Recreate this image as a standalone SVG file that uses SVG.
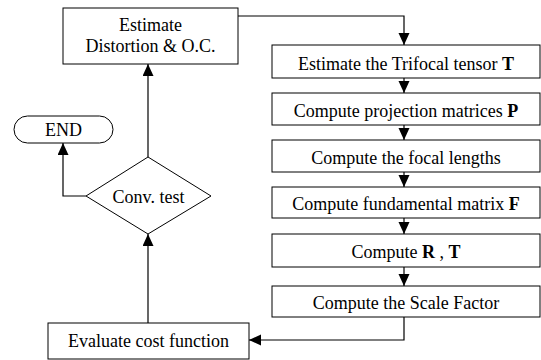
<svg xmlns="http://www.w3.org/2000/svg" width="541" height="360" viewBox="0 0 541 360">
<style>
.box{fill:#fff;stroke:#000;stroke-width:1}
.t{font-family:"Liberation Serif","Times New Roman",serif;font-size:18px;fill:#000;text-anchor:middle}
.b{font-weight:bold}
.c{fill:none;stroke:#000;stroke-width:1.2}
</style>
<defs>
<marker id="ah" markerUnits="userSpaceOnUse" markerWidth="12" markerHeight="12" refX="12" refY="5.5" orient="auto">
<path d="M0,0 L12,5.5 L0,11 z" fill="#000"/>
</marker>
</defs>
<rect width="541" height="360" fill="#fff"/>
<g id="connectors">
<path class="c" d="M238,16 H404 V45" marker-end="url(#ah)"/>
<path class="c" d="M404,78 V93" marker-end="url(#ah)"/>
<path class="c" d="M404,125 V140" marker-end="url(#ah)"/>
<path class="c" d="M404,172 V187" marker-end="url(#ah)"/>
<path class="c" d="M404,218 V234" marker-end="url(#ah)"/>
<path class="c" d="M404,267 V286" marker-end="url(#ah)"/>
<path class="c" d="M404,317 V340 H249" marker-end="url(#ah)"/>
<path class="c" d="M148,323 V234" marker-end="url(#ah)"/>
<path class="c" d="M148,157 V64" marker-end="url(#ah)"/>
<path class="c" d="M86,196 H63 V143" marker-end="url(#ah)"/>
</g>
<g id="estimate-distortion">
<rect class="box" x="63" y="8" width="175" height="56"/>
<text class="t" x="150.5" y="31">Estimate</text>
<text class="t" x="150.5" y="52">Distortion &amp; O.C.</text>
</g>
<g id="end">
<rect class="box" x="14" y="116" width="99" height="27" rx="13.5"/>
<text class="t" x="63.5" y="136">END</text>
</g>
<g id="conv-test">
<polygon class="box" points="148,157 211,196 148,234 86,196"/>
<text class="t" x="148.5" y="203">Conv. test</text>
</g>
<g id="evaluate-cost">
<rect class="box" x="48" y="323" width="201" height="36"/>
<text class="t" x="148.5" y="347">Evaluate cost function</text>
</g>
<g id="trifocal">
<rect class="box" x="272" y="45" width="268" height="33"/>
<text class="t" x="406" y="70">Estimate the Trifocal tensor <tspan class="b">T</tspan></text>
</g>
<g id="projection">
<rect class="box" x="272" y="93" width="268" height="32"/>
<text class="t" x="406" y="117">Compute projection matrices <tspan class="b">P</tspan></text>
</g>
<g id="focal">
<rect class="box" x="272" y="140" width="268" height="32"/>
<text class="t" x="406" y="164">Compute the focal lengths</text>
</g>
<g id="fundamental">
<rect class="box" x="272" y="187" width="268" height="31"/>
<text class="t" x="406" y="210">Compute fundamental matrix <tspan class="b">F</tspan></text>
</g>
<g id="rt">
<rect class="box" x="272" y="234" width="268" height="33"/>
<text class="t" x="406" y="258">Compute <tspan class="b">R</tspan> , <tspan class="b">T</tspan></text>
</g>
<g id="scale">
<rect class="box" x="272" y="286" width="268" height="31"/>
<text class="t" x="406" y="309">Compute the Scale Factor</text>
</g>
</svg>
